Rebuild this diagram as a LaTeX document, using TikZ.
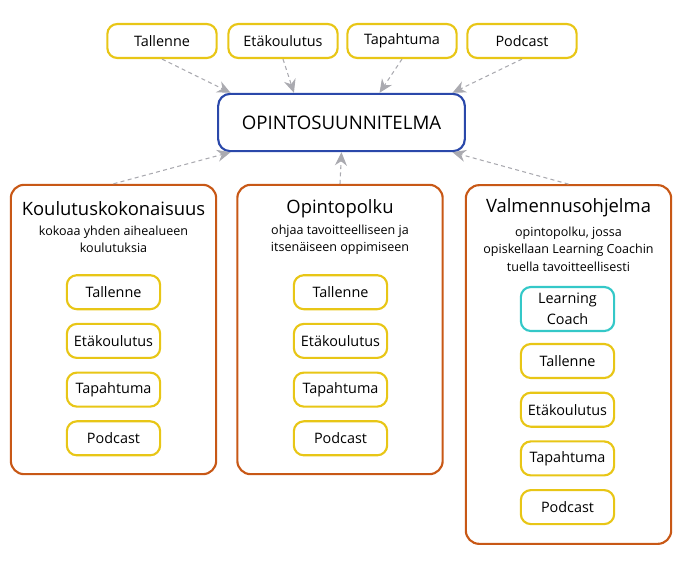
\documentclass[tikz,border=0pt]{standalone}
\usepackage{fontspec}
\setmainfont{Open Sans}
\usetikzlibrary{arrows.meta}

\definecolor{mediaYellow}{RGB}{232,198,22}
\definecolor{planBlue}{RGB}{42,72,170}
\definecolor{groupOrange}{RGB}{200,88,22}
\definecolor{coachCyan}{RGB}{52,200,200}
\definecolor{linkGray}{RGB}{170,170,176}

\tikzset{every picture/.style={line width=0.75pt}}
\tikzset{
  media/.style={draw=mediaYellow, line width=1.6pt, rounded corners=7.5pt, fill=white,
    minimum width=70pt, minimum height=25.5pt, inner sep=0pt, font=\fontsize{10.8}{12}\selectfont},
  group/.style={draw=groupOrange, line width=1.6pt, rounded corners=10pt,
    minimum width=154pt, inner sep=0pt},
  grouptitle/.style={font=\fontsize{13.8}{16}\selectfont},
  groupnote/.style={align=center, font=\fontsize{9.4}{13}\selectfont},
  link/.style={draw=linkGray, line width=0.8pt, dash pattern=on 3pt off 2.5pt,
    -{Stealth[length=10pt,width=9pt,fill=linkGray]}}
}

\begin{document}
\begin{tikzpicture}[x=0.75pt,y=0.75pt,yscale=-1,xscale=1]
\useasboundingbox (0,0) rectangle (688,569);

% plan in the middle
\node [draw=planBlue, line width=1.6pt, rounded corners=9pt, minimum width=185pt, minimum height=43pt,
  font=\fontsize{14}{17}\selectfont] (plan) at (341.5,122.5) {OPINTOSUUNNITELMA};

% media on top
\node [media, minimum width=82pt] (tallenne) at (162,41) {Tallenne};
\node [media, minimum width=82pt] (etakoulutus) at (283,41) {Etäkoulutus};
\node [media, minimum width=82pt] (tapahtuma) at (402,41) {Tapahtuma};
\node [media, minimum width=82pt] (podcast) at (522,41) {Podcast};

% three groups
\node [group, minimum height=217pt] (kokonaisuus) at (113.5,329.5) {};
\node [group, minimum height=217pt] (polku) at (340,329.5) {};
\node [group, minimum height=269pt] (ohjelma) at (568.5,364.5) {};

\node [grouptitle] (kokonaisuusTitle) at (113.5,209) {Koulutuskokonaisuus};
\node [groupnote] (kokonaisuusNote) at (113.5,239.5) {kokoaa yhden aihealueen\\koulutuksia};
\node [grouptitle] (polkuTitle) at (340,209) {Opintopolku};
\node [groupnote] (polkuNote) at (340,239.5) {ohjaa tavoitteelliseen ja\\itsenäiseen oppimiseen};
\node [grouptitle] (ohjelmaTitle) at (568.5,208) {Valmennusohjelma};
\node [groupnote] (ohjelmaNote) at (568.5,249) {opintopolku, jossa\\opiskellaan Learning Coachin\\tuella tavoitteellisesti};

% media inside the groups
\foreach \name/\txt [count=\i] in {a/Tallenne,b/Etäkoulutus,c/Tapahtuma,d/Podcast} {
  \node [media] (k\name) at (113.5,243.5+48.7*\i) {\txt};
  \node [media] (o\name) at (340.5,243.5+48.7*\i) {\txt};
  \node [media] (v\name) at (567.5,312.3+48.7*\i) {\txt};
}
\node [media, draw=coachCyan, minimum height=33pt, align=center,
  font=\fontsize{10.8}{15.5}\selectfont] (coach) at (567.5,309) {Learning\\Coach};

% links to the plan
\draw [link] (tallenne.south) -- (plan.165);
\draw [link] (etakoulutus.south) -- (plan.148);
\draw [link] (tapahtuma.south) -- (plan.38);
\draw [link] (podcast.south) -- (plan.15);
\draw [link] (kokonaisuus.north) -- (plan.195);
\draw [link] (polku.north) -- (plan.south);
\draw [link] (ohjelma.north) -- (plan.345);

\end{tikzpicture}
\end{document}
